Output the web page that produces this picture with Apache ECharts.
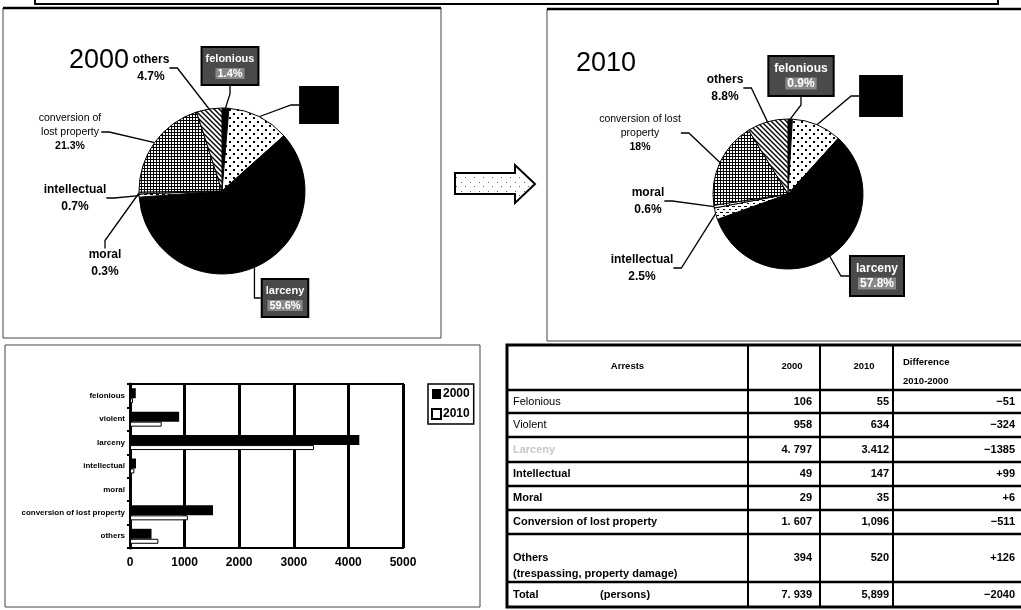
<!DOCTYPE html>
<html><head><meta charset="utf-8">
<script src="https://cdn.jsdelivr.net/npm/echarts@6/dist/echarts.min.js"></script>
<style>html,body{margin:0;padding:0;background:#fff}#c{width:1021px;height:610px}</style>
</head><body><div id="c"></div>
<script>
// ---------------- data ----------------
const categories = ['felonious', 'violent', 'larceny', 'intellectual', 'moral', 'conversion of lost property', 'others'];
const arrests2000 = [106, 958, 4797, 49, 29, 1607, 394];
const arrests2010 = [55, 634, 3412, 147, 35, 1096, 520];
const pieNames2000 = ['felonious', 'violent', 'larceny', 'intellectual', 'moral', 'conversion of\nlost property', 'others'];
const piePct2000 = ['1.4%', '12.1%', '59.6%', '0.7%', '0.3%', '21.3%', '4.7%'];
const pieNames2010 = ['felonious', 'violent', 'larceny', 'intellectual', 'moral', 'conversion of lost\nproperty', 'others'];
const piePct2010 = ['0.9%', '10.7%', '57.8%', '2.5%', '0.6%', '18%', '8.8%'];
const bar2000 = [106, 900, 4200, 110, 29, 1520, 394];
const bar2010 = [55, 580, 3370, 80, 35, 1060, 520];
const barSeriesNames = ['2000', '2010'];
const tableHeader = ['Arrests', '2000', '2010', 'Difference\n2010-2000'];
const tableRows = ['Felonious', 'Violent', 'Larceny', 'Intellectual', 'Moral', 'Conversion of lost property', 'Others\n(trespassing, property damage)', 'Total'];
const tableUnit = '(persons)';
const table2000 = ['106', '958', '4. 797', '49', '29', '1. 607', '394', '7. 939'];
const table2010 = ['55', '634', '3.412', '147', '35', '1,096', '520', '5,899'];
const tableDiff = ['\u221251', '\u2212324', '\u22121385', '+99', '+6', '\u2212511', '+126', '\u22122040'];

// ---------------- patterns ----------------
function pat(size, draw) {
  const c = document.createElement('canvas'); c.width = c.height = size;
  const g = c.getContext('2d'); draw(g, size); return { image: c, repeat: 'repeat' };
}
const P_dots = pat(8, (g) => { g.fillStyle = '#fff'; g.fillRect(0, 0, 8, 8); g.fillStyle = '#000'; g.fillRect(1, 1, 2, 2); g.fillRect(5, 5, 2, 2); });
const P_grid = pat(3, (g) => { g.fillStyle = '#000'; g.fillRect(0, 0, 3, 3); g.fillStyle = '#fff'; g.fillRect(1, 1, 2, 2); });
const P_hatch = pat(5, (g) => { g.fillStyle = '#fff'; g.fillRect(0, 0, 5, 5); g.strokeStyle = '#000'; g.lineWidth = 1.4;
  g.beginPath(); g.moveTo(-1, -1); g.lineTo(6, 6); g.moveTo(-1, 4); g.lineTo(1, 6); g.moveTo(4, -1); g.lineTo(6, 1); g.stroke(); });
const P_light = pat(6, (g) => { g.fillStyle = '#fff'; g.fillRect(0, 0, 6, 6); g.fillStyle = '#000'; g.fillRect(0, 2, 3, 1); g.fillRect(3, 5, 2, 1); });
const P_moral = pat(3, (g) => { g.fillStyle = '#fff'; g.fillRect(0, 0, 3, 3); g.fillStyle = '#000'; g.fillRect(0, 0, 1, 1); });
const P_arrow = pat(9, (g) => { g.fillStyle = '#fff'; g.fillRect(0, 0, 9, 9); g.fillStyle = '#666'; g.fillRect(2, 2, 1, 1); g.fillRect(6, 6, 1, 1); });
const sliceFills = ['#000', P_dots, '#000', P_light, P_moral, P_grid, P_hatch];

// ---------------- label styles ----------------
const FONT = 'Liberation Sans';
function labelStyle(kind, big) {
  if (kind === 'box') return {
    backgroundColor: '#4a4a4a', borderColor: '#000', borderWidth: 2, padding: big ? [4, 5] : [3, 3],
    rich: {
      n: { color: '#fff', fontWeight: 'bold', fontSize: big ? 12 : 11, lineHeight: 15, fontFamily: FONT },
      p: { color: '#fff', fontWeight: 'bold', fontSize: big ? 12 : 11, lineHeight: 15, fontFamily: FONT, backgroundColor: '#888', padding: [0, 2] }
    }
  };
  if (kind === 'black') return {
    backgroundColor: '#000', borderColor: '#000', borderWidth: 1, padding: big ? [7, 5] : [5, 3],
    rich: { n: { color: '#000', fontSize: 11, lineHeight: 13, fontFamily: FONT }, p: { color: '#000', fontSize: 11, lineHeight: 13, fontFamily: FONT } }
  };
  if (kind === 'small') return {
    rich: { n: { color: '#000', fontSize: 10.5, lineHeight: 14, fontFamily: FONT }, p: { color: '#000', fontSize: 10.5, fontWeight: 'bold', lineHeight: 14, fontFamily: FONT } }
  };
  return {
    rich: { n: { color: '#000', fontSize: 12, fontWeight: 'bold', lineHeight: 17, fontFamily: FONT }, p: { color: '#000', fontSize: 12, fontWeight: 'bold', lineHeight: 17, fontFamily: FONT } }
  };
}
const labelKinds = ['box', 'black', 'box', 'bold', 'bold', 'small', 'bold'];
const labelPos2000 = [[230, 66], [319, 105], [285, 298], [75, 198], [105, 263], [70, 132], [151, 68]];
const labelPos2010 = [[801, 76], [881, 96], [877, 276], [642, 268], [648, 201], [640, 133], [725, 88]];

function pieSeries(values, names, pcts, center, radius, pos, big) {
  return {
    type: 'pie', center: center, radius: radius, startAngle: 90, clockwise: true,
    avoidLabelOverlap: false, silent: true,
    itemStyle: { borderColor: '#000', borderWidth: 1 },
    labelLine: { show: true, length: 8, length2: 8, lineStyle: { color: '#000', width: 1.3 } },
    labelLayout: function (p) { const q = pos[p.dataIndex]; return { x: q[0], y: q[1], align: 'center', verticalAlign: 'middle' }; },
    data: values.map((v, i) => {
      const names2 = names[i].split('\n').map(s => '{n|' + s + '}').join('\n');
      return {
        name: categories[i], value: v,
        itemStyle: { color: sliceFills[i] },
        label: Object.assign({ show: true, position: 'outside', formatter: names2 + '\n{p|' + pcts[i] + '}' }, labelStyle(labelKinds[i], big))
      };
    })
  };
}

// ---------------- table graphic ----------------
const rowY = [345, 390, 413, 437, 462, 486, 510, 534, 582, 607];
const colX = [507, 748, 820, 893, 1030];
const tfont = (w, s) => (w || 'bold') + ' ' + (s || 11) + 'px "Liberation Sans"';
const tableEls = [];
tableEls.push({ type: 'rect', shape: { x: colX[0], y: rowY[0], width: colX[4] - colX[0], height: rowY[9] - rowY[0] }, style: { fill: '#fff', stroke: '#000', lineWidth: 3 } });
for (let i = 1; i < rowY.length - 1; i++) tableEls.push({ type: 'line', shape: { x1: colX[0], y1: rowY[i], x2: colX[4], y2: rowY[i] }, style: { stroke: '#000', lineWidth: 2.5 } });
for (let j = 1; j < 4; j++) tableEls.push({ type: 'line', shape: { x1: colX[j], y1: rowY[0], x2: colX[j], y2: rowY[9] }, style: { stroke: '#000', lineWidth: 2 } });
tableEls.push({ type: 'text', x: (colX[0] + colX[1]) / 2, y: 366, style: { text: tableHeader[0], font: tfont('bold', 9.5), fill: '#000', align: 'center', verticalAlign: 'middle' } });
tableEls.push({ type: 'text', x: 792, y: 366, style: { text: tableHeader[1], font: tfont('bold', 9.5), fill: '#000', align: 'center', verticalAlign: 'middle' } });
tableEls.push({ type: 'text', x: 864, y: 366, style: { text: tableHeader[2], font: tfont('bold', 9.5), fill: '#000', align: 'center', verticalAlign: 'middle' } });
tableEls.push({ type: 'text', x: 903, y: 372, style: { text: tableHeader[3], font: tfont('bold', 9.5), lineHeight: 19, fill: '#000', align: 'left', verticalAlign: 'middle' } });
tableRows.forEach((name, r) => {
  const yTop = rowY[r + 1], yBot = rowY[r + 2];
  const isOthers = name.indexOf('\n') >= 0;
  const y = isOthers ? yTop + 24 : (yTop + yBot) / 2;
  const weight = (r < 2) ? 'normal' : 'bold';
  const fill = (r === 2) ? '#c8c8c8' : '#000';
  tableEls.push({ type: 'text', x: 513, y: isOthers ? y - 8 : y, style: { text: name, font: tfont(weight), lineHeight: 16, fill: fill, align: 'left', verticalAlign: isOthers ? 'top' : 'middle' } });
  tableEls.push({ type: 'text', x: 812, y: y, style: { text: table2000[r], font: tfont(), fill: '#000', align: 'right', verticalAlign: 'middle' } });
  tableEls.push({ type: 'text', x: 889, y: y, style: { text: table2010[r], font: tfont(), fill: '#000', align: 'right', verticalAlign: 'middle' } });
  tableEls.push({ type: 'text', x: 1015, y: y, style: { text: tableDiff[r], font: tfont(), fill: '#000', align: 'right', verticalAlign: 'middle' } });
});
tableEls.push({ type: 'text', x: 600, y: (rowY[8] + rowY[9]) / 2, style: { text: tableUnit, font: tfont(), fill: '#000', align: 'left', verticalAlign: 'middle' } });

// ---------------- frames / arrow ----------------
const frameEls = [
  { type: 'rect', shape: { x: 35, y: -20, width: 963, height: 24 }, style: { fill: 'none', stroke: '#000', lineWidth: 2 } },
  { type: 'rect', shape: { x: 3, y: 8, width: 438, height: 330 }, style: { fill: 'none', stroke: '#444', lineWidth: 1 } },
  { type: 'line', shape: { x1: 3, y1: 8, x2: 441, y2: 8 }, style: { stroke: '#000', lineWidth: 2.5 } },
  { type: 'rect', shape: { x: 547, y: 9, width: 480, height: 332 }, style: { fill: 'none', stroke: '#444', lineWidth: 1 } },
  { type: 'line', shape: { x1: 547, y1: 9, x2: 1021, y2: 9 }, style: { stroke: '#000', lineWidth: 2.5 } },
  { type: 'rect', shape: { x: 5, y: 345, width: 475, height: 262 }, style: { fill: 'none', stroke: '#444', lineWidth: 1 } },
  { type: 'polygon', shape: { points: [[455, 173], [515, 173], [515, 165], [535, 184], [515, 203], [515, 194], [455, 194]] }, style: { fill: P_arrow, stroke: '#000', lineWidth: 2 } }
];

// ---------------- chart ----------------
const chart = echarts.init(document.getElementById('c'), null, { renderer: 'canvas' });
chart.setOption({
  animation: false,
  backgroundColor: '#fff',
  textStyle: { fontFamily: FONT },
  title: [
    { text: '2000', left: 64, top: 42, textStyle: { fontSize: 27, fontWeight: 'normal', color: '#000', fontFamily: FONT } },
    { text: '2010', left: 571, top: 45, textStyle: { fontSize: 27, fontWeight: 'normal', color: '#000', fontFamily: FONT } }
  ],
  legend: {
    data: barSeriesNames, orient: 'vertical', left: 428, top: 384, itemWidth: 9, itemHeight: 10, itemGap: 8,
    padding: [4, 4, 4, 3], borderColor: '#000', borderWidth: 1.5, icon: 'rect',
    textStyle: { fontSize: 12, fontWeight: 'bold', color: '#000', fontFamily: FONT, padding: [0, 0, 0, -3] }
  },
  grid: { left: 130, top: 384, width: 273, height: 164, show: true, borderColor: '#000', borderWidth: 2, backgroundColor: '#fff', containLabel: false },
  xAxis: {
    type: 'value', min: 0, max: 5000, interval: 1000,
    axisLine: { show: true, lineStyle: { color: '#000', width: 2 } },
    axisTick: { show: false },
    splitLine: { show: true, lineStyle: { color: '#000', width: 3 } },
    axisLabel: { color: '#000', fontSize: 12, fontWeight: 'bold', margin: 9, fontFamily: FONT, formatter: (v) => String(v) }
  },
  yAxis: {
    type: 'category', data: categories, inverse: true,
    axisLine: { show: true, lineStyle: { color: '#000', width: 3 } },
    axisTick: { show: true, length: 3, lineStyle: { color: '#000', width: 2 } },
    axisLabel: { color: '#000', fontSize: 8, fontWeight: 'bold', margin: 5, fontFamily: FONT }
  },
  series: [
    pieSeries(arrests2000, pieNames2000, piePct2000, [222, 191], 83, labelPos2000, false),
    pieSeries(arrests2010, pieNames2010, piePct2010, [788, 194], 75, labelPos2010, true),
    { type: 'bar', name: barSeriesNames[0], data: bar2000, barWidth: 10, barGap: '0%', itemStyle: { color: '#000' } },
    { type: 'bar', name: barSeriesNames[1], data: bar2010, barWidth: 5, barGap: '0%', itemStyle: { color: '#fff', borderColor: '#000', borderWidth: 1 } }
  ],
  graphic: [{ type: 'group', silent: true, children: frameEls.concat(tableEls) }]
});
</script></body></html>
